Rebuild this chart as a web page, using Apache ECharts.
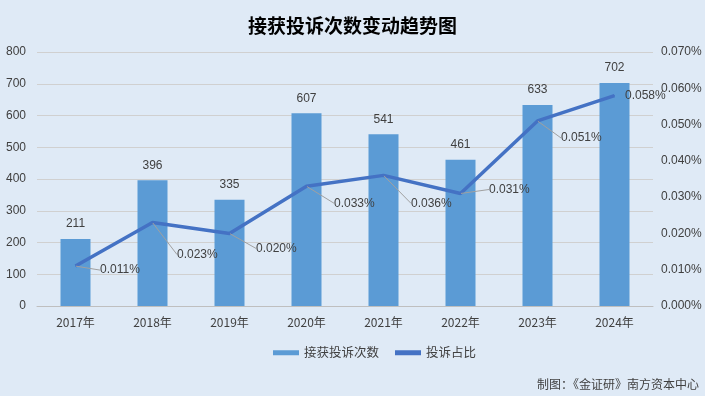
<!DOCTYPE html>
<html><head><meta charset="utf-8">
<script src="https://cdn.jsdelivr.net/npm/echarts@6/dist/echarts.min.js"></script>
<style>html,body{margin:0;padding:0;background:#dfeaf6}#c{width:705px;height:396px}</style>
</head><body><div id="c"></div>
<script>
const categories = ['2017年','2018年','2019年','2020年','2021年','2022年','2023年','2024年'];
const complaints = [211, 396, 335, 607, 541, 461, 633, 702];
const ratio = [0.011, 0.023, 0.020, 0.033, 0.036, 0.031, 0.051, 0.058];
const leftTicks = {min: 0, max: 800, interval: 100};
const rightTicks = {min: 0, max: 0.07, interval: 0.01};
// manual label nudges (pixels) for the ratio labels, as in the reference
const labelNudge = [[24,4],[24,32],[26,15],[27,17],[27,28],[28,-4],[23,17],null];

const chart = echarts.init(document.getElementById('c'));
const font = '"Noto Sans CJK SC", "Liberation Sans", sans-serif';
const numFont = '"Liberation Sans", "Noto Sans CJK SC", sans-serif';
const txt = '#404040';
const last = ratio.length - 1;
chart.setOption({
  backgroundColor: '#dfeaf6',
  animation: false,
  textStyle: {fontFamily: font},
  title: {text: '接获投诉次数变动趋势图', left: 'center', top: 11,
    textStyle: {fontSize: 19, fontWeight: 'bold', color: '#000', fontFamily: font}},
  grid: {left: 37, right: 52, top: 52, bottom: 90},
  legend: {bottom: 32, left: 268, itemGap: 16, itemWidth: 26, itemHeight: 5,
    textStyle: {fontSize: 12.5, color: txt},
    data: [{name: '接获投诉次数', icon: 'rect'}, {name: '投诉占比', icon: 'rect'}]},
  graphic: [{type: 'text', right: 6, bottom: 6,
    style: {text: '制图：《金证研》南方资本中心', fontSize: 12, fill: txt, fontFamily: font}}],
  xAxis: {type: 'category', data: categories,
    axisLine: {lineStyle: {color: '#bfbfbf'}}, axisTick: {show: false},
    axisLabel: {color: txt, fontSize: 12, margin: 10}},
  yAxis: [
    {type: 'value', min: leftTicks.min, max: leftTicks.max, interval: leftTicks.interval,
      axisLabel: {color: txt, fontSize: 12, margin: 11, fontFamily: numFont},
      splitLine: {lineStyle: {color: '#d0d0d0'}}, axisLine: {show: false}},
    {type: 'value', min: rightTicks.min, max: rightTicks.max, interval: rightTicks.interval,
      axisLabel: {color: txt, fontSize: 12, margin: 8, fontFamily: numFont, formatter: v => v.toFixed(3) + '%'},
      splitLine: {show: false}, axisLine: {show: false}}
  ],
  series: [
    {name: '接获投诉次数', type: 'bar', data: complaints, barWidth: 30,
      itemStyle: {color: '#5b9bd5'},
      label: {show: true, position: 'top', distance: 9, color: txt, fontSize: 12, fontFamily: numFont}},
    {name: '投诉占比', type: 'line', yAxisIndex: 1, showSymbol: true, symbol: 'circle', symbolSize: 1,
      lineStyle: {width: 3.5, color: '#4472c4'}, itemStyle: {color: '#4472c4'},
      data: ratio.map((v, i) => i === last
        ? {value: v, label: {position: 'right', distance: 10}, labelLine: {show: false}}
        : {value: v}),
      label: {show: true, position: 'right', distance: 0, color: txt, fontSize: 12, fontFamily: numFont,
        formatter: p => p.value.toFixed(3) + '%'},
      labelLine: {show: true, lineStyle: {color: '#a0a0a0', width: 1}},
      labelLayout: p => {
        const n = labelNudge[p.dataIndex];
        return n ? {dx: n[0], dy: n[1]} : {};
      }}
  ]
});
</script></body></html>
